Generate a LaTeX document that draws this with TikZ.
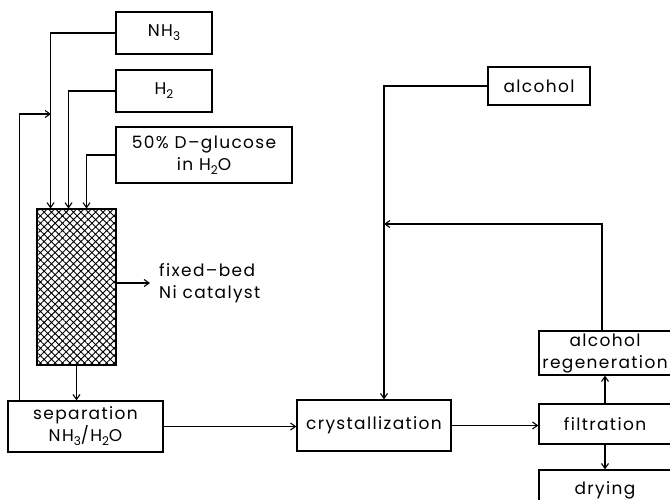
\documentclass[tikz,border=0pt]{standalone}
\usepackage{fontspec}
\setmainfont[LetterSpace=8]{Poppins}
\usetikzlibrary{positioning, calc}
\usetikzlibrary{arrows.meta}
\usetikzlibrary{patterns.meta}

\newcommand{\chsub}[1]{\raisebox{-4pt}{\fontsize{12}{12}\selectfont #1}}

\tikzset{
  unit/.style={draw, line width=1.2pt, align=center, inner sep=0pt,
    font=\fontsize{17}{22}\selectfont},
  lbl/.style={align=left, inner sep=0pt, font=\fontsize{17}{22}\selectfont},
  flow/.style={line width=1.1pt, -{Straight Barb[length=5pt,width=7pt]}}
}

\begin{document}
\begin{tikzpicture}[x=1pt, y=-1pt]
  \useasboundingbox (0,0) rectangle (670,499);
  \clip (0,0) rectangle (670,499);

  % Zulaeufe
  \node[unit, minimum width=96pt, minimum height=42pt] (nh3) at (164,33) {NH\chsub{3}};
  \node[unit, minimum width=96pt, minimum height=42pt] (h2) at (164,91) {H\chsub{2}};
  \node[unit, minimum width=176pt, minimum height=56pt] (glu) at (204,155) {50\% D--glucose\\in H\chsub{2}O};

  % Reaktor
  \node[draw, line width=1.3pt, minimum width=79pt, minimum height=156pt, inner sep=0pt,
    pattern={Hatch[angle=45, distance=5.2pt, line width=0.9pt]}] (reac) at (76.5,287) {};
  \node[lbl, anchor=west] (cat) at (159,283) {fixed--bed\\Ni catalyst};

  % Prozesseinheiten
  \node[unit, minimum width=155pt, minimum height=51pt] (sep) at (85.5,426.5) {separation\\NH\chsub{3}/H\chsub{2}O};
  \node[unit, minimum width=154pt, minimum height=51pt] (cryst) at (374,425.5) {crystallization};
  \node[unit, minimum width=102pt, minimum height=38pt] (alc) at (539,86) {alcohol};
  \node[unit, minimum width=132pt, minimum height=44pt] (regen) at (605,353) {alcohol\\regeneration};
  \node[unit, minimum width=132pt, minimum height=40pt] (filt) at (605,424) {filtration};
  \node[unit, minimum width=132pt, minimum height=40pt] (dry) at (605,490) {drying};

  % Knoten der Rueckfuehrungen
  \coordinate (j1) at (51,114);
  \coordinate (j2) at (384,224);

  % Verbindungen
  \draw[flow] (nh3.west) -| ([xshift=14pt]reac.north west);
  \draw[flow] (h2.west) -| ([xshift=32pt]reac.north west);
  \draw[flow] (glu.west) -| ([xshift=50pt]reac.north west);
  \draw[flow] ([xshift=12pt]sep.north west) |- (j1);
  \draw[flow] (reac.east |- cat.west) -- ([xshift=-9pt]cat.west);
  \draw[flow] (reac.south) -- (reac.south |- sep.north);
  \draw[flow] (sep.east) -- (sep.east -| cryst.west);
  \draw[flow] (alc.west) -| ([xshift=10pt]cryst.north);
  \draw[flow] ([xshift=-3pt]regen.north) |- (j2);
  \draw[flow] (cryst.east) -- (cryst.east -| filt.west);
  \draw[flow] (filt.north) -- (regen.south);
  \draw[flow] (filt.south) -- (dry.north);
\end{tikzpicture}
\end{document}
